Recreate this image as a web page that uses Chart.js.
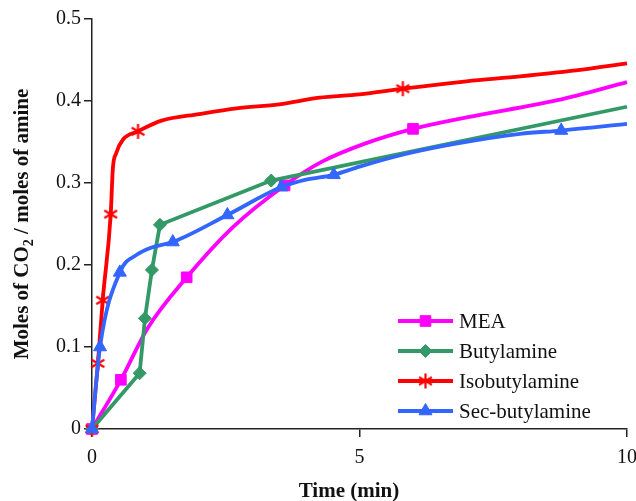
<!DOCTYPE html>
<html>
<head>
<meta charset="utf-8">
<script src="https://cdn.jsdelivr.net/npm/chart.js@4/dist/chart.umd.min.js"></script>
<style>
  html, body { margin: 0; padding: 0; background: #fff; }
  #wrap { width: 636px; height: 501px; position: relative; }
</style>
</head>
<body>
<div id="wrap"><canvas id="c"></canvas></div>
<script>
// Measured CO2 loading (mol CO2 / mol amine) against time (min)
const meaTime       = [0, 0.54, 1.77, 3.6, 6.0];
const meaValue      = [0, 0.060, 0.185, 0.297, 0.366];
const meaCurveTime  = [1.04, 2.63, 4.3, 5.1, 7.0, 8.7, 10];
const meaCurveValue = [0.123, 0.246, 0.326, 0.348, 0.380, 0.401, 0.423];

const butTime       = [0, 0.89, 0.99, 1.12, 1.27, 3.35];
const butValue      = [0, 0.068, 0.135, 0.194, 0.249, 0.303];
const butCurveTime  = [10];
const butCurveValue = [0.393];

const isoTime       = [0, 0.11, 0.20, 0.35, 0.86, 5.81];
const isoValue      = [0, 0.080, 0.157, 0.262, 0.363, 0.415];
const isoCurveTime  = [0.39, 0.45, 0.58, 1.3, 2.0, 2.7, 3.5, 4.25, 5.0, 7.0, 8.0, 9.0, 10];
const isoCurveValue = [0.318, 0.336, 0.353, 0.376, 0.384, 0.391, 0.396, 0.404, 0.408, 0.424, 0.430, 0.437, 0.446];

const secTime       = [0, 0.15, 0.52, 1.51, 2.53, 3.54, 4.52, 8.77];
const secValue      = [0, 0.100, 0.191, 0.228, 0.261, 0.295, 0.310, 0.364];
const secCurveTime  = [0.85, 1.1, 4.0, 5.0, 5.9, 6.8, 8.0, 10];
const secCurveValue = [0.213, 0.221, 0.304, 0.320, 0.336, 0.348, 0.360, 0.372];

const seriesNames = ['MEA', 'Butylamine', 'Isobutylamine', 'Sec-butylamine'];
const xTicks = [0, 5, 10];
const yTicks = [0, 0.1, 0.2, 0.3, 0.4, 0.5];

// merge measured points (marked) with the extra points of the fitted curve
function buildSeries(t, v, ct, cv) {
  const pts = t.map((x, i) => ({ x, y: v[i], m: true }))
    .concat(ct.map((x, i) => ({ x, y: cv[i], m: false })));
  return pts.sort((a, b) => a.x - b.x);
}

// asterisk marker (vertical bar + X)
function makeAsterisk(color, size, lw) {
  const c = document.createElement('canvas');
  c.width = size; c.height = size;
  const g = c.getContext('2d');
  const h = size / 2, r = h - lw / 2;
  g.strokeStyle = color; g.lineWidth = lw; g.lineCap = 'butt';
  g.beginPath();
  g.moveTo(h, h - r); g.lineTo(h, h + r);
  const d = r * Math.cos(Math.PI / 6), e = r * Math.sin(Math.PI / 6);
  g.moveTo(h - d, h - e); g.lineTo(h + d, h + e);
  g.moveTo(h - d, h + e); g.lineTo(h + d, h - e);
  g.stroke();
  return c;
}

const COLORS = ['#ff00ff', '#339966', '#ff0000', '#3366ff'];
const star = makeAsterisk(COLORS[2], 17, 2.2);
const STYLES = [
  { pointStyle: 'rect', radius: 7.5 },
  { pointStyle: 'rectRot', radius: 6.5 },
  { pointStyle: star, radius: 8 },
  { pointStyle: 'triangle', radius: 7.5 }
];
const seriesData = [
  buildSeries(meaTime, meaValue, meaCurveTime, meaCurveValue),
  buildSeries(butTime, butValue, butCurveTime, butCurveValue),
  buildSeries(isoTime, isoValue, isoCurveTime, isoCurveValue),
  buildSeries(secTime, secValue, secCurveTime, secCurveValue)
];
const tensionMode = ['monotone', 'default', 'monotone', 'monotone'];

const datasets = seriesNames.map((name, i) => ({
  label: name,
  data: seriesData[i],
  borderColor: COLORS[i],
  backgroundColor: COLORS[i],
  borderWidth: 3.8,
  cubicInterpolationMode: tensionMode[i],
  tension: i === 1 ? 0 : 0.4,
  pointStyle: STYLES[i].pointStyle,
  pointRadius: ctx => (ctx.raw && ctx.raw.m ? STYLES[i].radius : 0),
  pointHoverRadius: ctx => (ctx.raw && ctx.raw.m ? STYLES[i].radius : 0),
  pointBorderWidth: 1,
  clip: false,
  order: seriesNames.length - i
}));

const SERIF = '"Liberation Serif", "Times New Roman", serif';

// axis titles and the legend box
const decorations = {
  id: 'decorations',
  afterDraw(chart) {
    const ctx = chart.ctx;
    ctx.save();
    ctx.fillStyle = '#111';
    // x title
    ctx.font = 'bold 21px ' + SERIF;
    ctx.textAlign = 'center';
    ctx.textBaseline = 'alphabetic';
    ctx.fillText('Time (min)', 349, 497);
    // y title with subscript
    const big = 'bold 21px ' + SERIF, small = 'bold 14px ' + SERIF;
    const parts = [['Moles of CO', big, 0], ['2', small, 5], [' / moles of amine', big, 0]];
    let total = 0;
    parts.forEach(p => { ctx.font = p[1]; total += ctx.measureText(p[0]).width; });
    ctx.translate(28, 224);
    ctx.rotate(-Math.PI / 2);
    ctx.textAlign = 'left';
    let x = -total / 2;
    parts.forEach(p => { ctx.font = p[1]; ctx.fillText(p[0], x, p[2]); x += ctx.measureText(p[0]).width; });
    ctx.restore();

    // legend
    ctx.save();
    const x0 = 398, x1 = 453, yStart = 321, step = 30;
    chart.data.datasets.forEach((ds, i) => {
      const y = yStart + i * step;
      ctx.strokeStyle = ds.borderColor;
      ctx.lineWidth = 3.8;
      ctx.beginPath();
      ctx.moveTo(x0, y); ctx.lineTo(x1, y);
      ctx.stroke();
      ctx.fillStyle = ds.backgroundColor;
      ctx.strokeStyle = ds.borderColor;
      ctx.lineWidth = 1;
      Chart.helpers.drawPoint(ctx, {
        pointStyle: STYLES[i].pointStyle, radius: STYLES[i].radius, rotation: 0, borderWidth: 1
      }, (x0 + x1) / 2, y);
      ctx.fillStyle = '#111';
      ctx.font = '21px ' + SERIF;
      ctx.textAlign = 'left';
      ctx.textBaseline = 'middle';
      ctx.fillText(ds.label, 459, y + 1);
    });
    ctx.restore();
  }
};

new Chart(document.getElementById('c'), {
  type: 'line',
  data: { datasets },
  options: {
    responsive: true,
    maintainAspectRatio: false,
    animation: false,
    layout: { padding: { top: 19, right: 8, left: 0, bottom: 0 } },
    plugins: { legend: { display: false }, tooltip: { enabled: false } },
    scales: {
      x: {
        type: 'linear',
        min: 0, max: 10,
        afterBuildTicks: s => { s.ticks = xTicks.map(v => ({ value: v })); },
        afterFit: s => { s.height = 72; s.paddingLeft = 0; s.paddingRight = 0; },
        grid: { drawOnChartArea: false, drawTicks: true, tickLength: 8, color: '#222', lineWidth: 1.5 },
        border: { color: '#222', width: 1.5 },
        ticks: { color: '#111', font: { family: SERIF, size: 20 }, padding: 9, maxRotation: 0, autoSkip: false }
      },
      y: {
        type: 'linear',
        min: 0, max: 0.5,
        afterBuildTicks: s => { s.ticks = yTicks.map(v => ({ value: v })); },
        afterFit: s => { s.width = 92; s.paddingTop = 0; s.paddingBottom = 0; },
        grid: { drawOnChartArea: false, drawTicks: true, tickLength: 8, color: '#222', lineWidth: 1.5 },
        border: { color: '#222', width: 1.5 },
        ticks: {
          color: '#111', font: { family: SERIF, size: 20 }, padding: 3, autoSkip: false,
          callback: v => (v === 0 ? '0' : v.toFixed(1))
        }
      }
    }
  },
  plugins: [decorations]
});
</script>
</body>
</html>
